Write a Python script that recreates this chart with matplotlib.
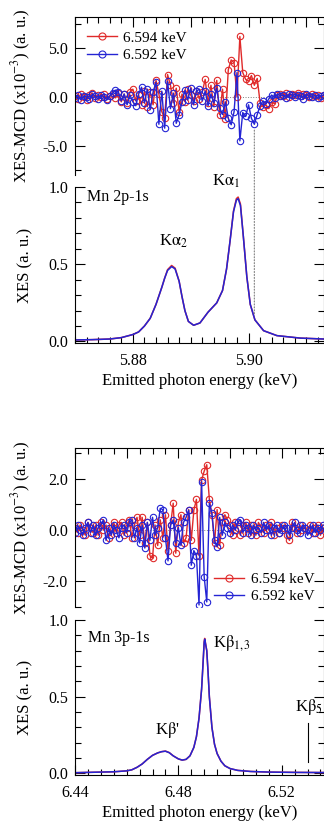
import numpy as np
import matplotlib
matplotlib.use("Agg")
import matplotlib.pyplot as plt
from matplotlib.patches import ConnectionPatch
from matplotlib.ticker import MultipleLocator, FormatStrFormatter

plt.rcParams['font.family'] = ['Liberation Serif', 'DejaVu Serif']
plt.rcParams['mathtext.fontset'] = 'stix'
plt.rcParams['axes.unicode_minus'] = False

RED = '#e02a2a'
BLUE = '#2424d4'

# ---- Mn 2p-1s (K-alpha) ----
# MCD sampled every 0.5 eV starting at 5.870 keV
ka_mcd_start, ka_mcd_step = 5.870, 0.0005
ka_mcd_594 = [0.1, -0.2, 0.3, 0.0, -0.3, 0.2, 0.4, -0.1, 0.2, 0.0, 0.3, -0.2, 0.1, 0.3, -0.1,
              0.4, -0.5, 0.3, -0.6, 0.5, 0.8, -0.4, 0.2, -0.8, 0.6,
              -1.0, 0.5, -0.8, 1.7, 0.3, -1.5, -2.2, 2.3, 1.2, -0.6, 0.9, -1.5,
              0.3, -0.5, 0.8, 0.2, -0.4, 0.6, -0.2,
              0.5, 1.8, -0.6, 1.2, -1.0, 1.7, -1.8, 0.8, -2.3, 2.8, 3.8, 3.5, 0.0, 6.2, 2.5, 1.8,
              1.6, 2.2, 1.2, 1.9,
              -0.6, -1.0, -0.8, -1.2, -0.5, -0.7,
              0.2, 0.3, 0.1, 0.4, 0.0, 0.3, 0.2, 0.4, 0.1, 0.3, 0.2, 0.0, 0.3, 0.1, 0.2, -0.1, 0.2]
ka_mcd_592 = [-0.1, 0.2, -0.3, 0.1, 0.0, -0.2, 0.3, 0.1, -0.2, 0.2, 0.0, -0.3, 0.1, 0.4, 0.7,
              0.5, -0.4, 0.3, -0.8, 0.2, -0.5, -0.9, 0.3, 1.0, -0.6,
              0.8, -1.3, 0.5, 1.5, -2.8, 0.6, -3.2, 1.6, -1.2, 0.4, -2.7, -1.8,
              -0.5, 0.7, -0.3, 0.9, -0.8, 0.6, 0.8,
              -0.4, 0.6, -0.9, 0.3, -0.6, 0.9, -1.1, -1.8, -0.5, -2.2, -2.85, -1.5, 2.5, -4.5,
              -1.6, -2.0, -0.8, -2.2, -2.8, -1.8, -0.9, -0.4, -0.7, -0.2,
              0.2, -0.1, 0.3, 0.1, 0.2, -0.1, 0.3, 0.2, 0.0, 0.2, 0.1, -0.2, 0.3, 0.1, 0.0, 0.2,
              -0.1, 0.1, 0.2]

ka_energy = [5.870, 5.873, 5.876, 5.878, 5.880, 5.881, 5.882, 5.883, 5.884, 5.885, 5.8855,
             5.886, 5.8867, 5.8873, 5.888, 5.8885, 5.889, 5.8896, 5.8905, 5.8916, 5.893,
             5.8945, 5.8955, 5.8962, 5.8968, 5.8974, 5.8979, 5.8982, 5.8986, 5.8991, 5.8997,
             5.9003, 5.9011, 5.9026, 5.9049, 5.9089, 5.913]
ka_xes_594 = [0.010, 0.012, 0.016, 0.025, 0.045, 0.062, 0.10, 0.15, 0.24, 0.35, 0.41,
              0.465, 0.492, 0.475, 0.39, 0.29, 0.20, 0.13, 0.105, 0.12, 0.19,
              0.25, 0.33, 0.47, 0.65, 0.845, 0.925, 0.935, 0.89, 0.68, 0.42,
              0.24, 0.14, 0.07, 0.038, 0.022, 0.016]
ka_xes_592 = [0.010, 0.012, 0.016, 0.025, 0.045, 0.062, 0.10, 0.15, 0.24, 0.35, 0.41,
              0.46, 0.485, 0.47, 0.39, 0.29, 0.20, 0.13, 0.105, 0.12, 0.19,
              0.25, 0.33, 0.47, 0.65, 0.84, 0.915, 0.925, 0.88, 0.68, 0.42,
              0.24, 0.14, 0.07, 0.038, 0.022, 0.016]
ka_marker_energy = 5.901

# ---- Mn 3p-1s (K-beta) ----
kb_mcd_start, kb_mcd_step = 6.440, 0.001
kb_mcd_594 = [0.1, -0.1, 0.2, 0.0, -0.2, 0.3, 0.1, -0.1, 0.2, -0.2, 0.3, 0.0, 0.2, -0.3, 0.1,
              0.3, -0.1, 0.2, 0.3, -0.2, 0.1, 0.4, -0.3, 0.2, 0.5, -0.2,
              0.5, -0.5, 0.3, -1.0, -1.1, 0.2, -0.6, 0.4, -0.3,
              0.6, -0.8, 0.2, 1.05, -0.9, 0.3, 0.6, -0.5, -0.3, 0.8, -0.4, 0.78, 1.2,
              -1.0, 1.95, 2.3, 2.55, 1.2, 0.6, -0.5, 0.8, -0.6,
              0.3, 0.6, 0.4, 0.2, -0.2, 0.3, 0.1, -0.2, 0.2, 0.3, -0.1, 0.2, 0.0, -0.2, 0.3,
              0.1, -0.1, 0.2, 0.0, 0.3, -0.2, 0.1, -0.1, 0.2, 0.1, -0.2, -0.4, 0.3, 0.1, -0.1,
              0.2, 0.0, 0.1, 0.0, 0.2, -0.1, 0.1, 0.2, -0.2, 0.1]
kb_mcd_592 = [-0.1, 0.2, 0.0, -0.2, 0.1, 0.3, -0.1, 0.2, -0.2, 0.1, 0.2, 0.4, -0.4, 0.1, -0.2,
              0.2, 0.0, -0.3, 0.1, 0.2, -0.1, 0.3, 0.4, -0.3, 0.1, -0.5,
              0.2, -0.7, 0.3, -0.4, 0.5, -0.2, 0.1, 0.85, 0.8,
              -0.3, -1.2, 0.2, 0.4, -0.5, 0.1, -0.6, 0.3, 0.5, 0.78, -1.37, -0.8, -1.0,
              -2.92, 1.88, -1.83, -2.8, 1.05, 0.65, -0.4, -0.65, 0.5,
              -0.2, 0.3, 0.1, -0.1, 0.2, 0.0, 0.3, 0.4, -0.1, 0.2, 0.1, -0.2, 0.2, 0.0, 0.1,
              -0.1, 0.3, 0.0, 0.2, -0.2, 0.1, 0.2, -0.1, 0.0, 0.2, 0.1, -0.2, 0.1, 0.3, 0.0,
              -0.1, 0.2, 0.1, -0.2, 0.0, 0.2, -0.1, 0.1, 0.0, 0.2]

kb_energy = [6.440, 6.445, 6.450, 6.455, 6.460, 6.462, 6.464, 6.466, 6.468, 6.470, 6.472,
             6.4735, 6.475, 6.4765, 6.478, 6.480, 6.4815, 6.483, 6.4845, 6.486, 6.487,
             6.488, 6.489, 6.4895, 6.490, 6.4902, 6.491, 6.4915, 6.492, 6.493, 6.494,
             6.495, 6.4965, 6.498, 6.500, 6.503, 6.508, 6.515, 6.525, 6.5364]
kb_xes_594 = [0.005, 0.007, 0.009, 0.011, 0.017, 0.024, 0.040, 0.062, 0.092, 0.118, 0.134,
              0.142, 0.146, 0.136, 0.115, 0.095, 0.087, 0.092, 0.115, 0.17, 0.24,
              0.36, 0.55, 0.70, 0.86, 0.88, 0.80, 0.66, 0.50, 0.30, 0.19,
              0.13, 0.08, 0.05, 0.032, 0.02, 0.013, 0.009, 0.007, 0.006]
kb_xes_592 = [0.005, 0.007, 0.009, 0.011, 0.017, 0.024, 0.040, 0.062, 0.092, 0.118, 0.134,
              0.142, 0.145, 0.135, 0.115, 0.095, 0.087, 0.092, 0.115, 0.17, 0.24,
              0.36, 0.55, 0.70, 0.855, 0.875, 0.80, 0.66, 0.50, 0.30, 0.19,
              0.13, 0.08, 0.05, 0.032, 0.02, 0.013, 0.009, 0.007, 0.006]
kb5_energy = 6.530
kb5_span = (0.076, 0.326)

legend_labels = ['6.594 keV', '6.592 keV']

fig = plt.figure(figsize=(3.24, 8.25), dpi=100)
L, W = 0.2315, 0.7695
ax_m1 = fig.add_axes([L, 0.7879, W, 0.1915])
ax_x1 = fig.add_axes([L, 0.5842, W, 0.1891])
ax_m2 = fig.add_axes([L, 0.2642, W, 0.1927])
ax_x2 = fig.add_axes([L, 0.0606, W, 0.1879])


def style(ax, top):
    ax.tick_params(which='both', direction='in', left=True, right=True, labelsize=11.5,
                   width=0.8, pad=5)
    ax.tick_params(which='major', length=7)
    ax.tick_params(which='minor', length=4)
    for s in ax.spines.values():
        s.set_linewidth(0.8)
    if top:
        ax.spines['bottom'].set_visible(False)
        ax.tick_params(axis='x', which='both', top=True, bottom=False,
                       labelbottom=False, labeltop=False)
    else:
        ax.spines['top'].set_visible(False)
        ax.tick_params(axis='x', which='both', top=False, bottom=True, pad=7)
    ax.yaxis.set_major_formatter(FormatStrFormatter('%.1f'))


def mcd(ax, start, step, r, b):
    e = start + step * np.arange(len(r))
    ax.axhline(0, color='gray', lw=0.7, ls=':')
    ax.plot(e, r, '-o', color=RED, lw=1.0, ms=4.6, mfc='none', mew=0.8, label=legend_labels[0])
    ax.plot(e, b, '-o', color=BLUE, lw=1.0, ms=4.6, mfc='none', mew=0.8, label=legend_labels[1])


ylab_mcd = 'XES-MCD (x10$^{-3}$) (a. u.)'
leg_kw = dict(frameon=False, fontsize=11, handlelength=2.0, handletextpad=0.4,
              labelspacing=0.25, markerscale=1.1)

# top pair
mcd(ax_m1, ka_mcd_start, ka_mcd_step, ka_mcd_594, ka_mcd_592)
style(ax_m1, True)
ax_m1.set_xlim(5.870, 5.9131)
ax_m1.set_ylim(-8.0, 8.2)
ax_m1.xaxis.set_major_locator(MultipleLocator(0.01))
ax_m1.xaxis.set_minor_locator(MultipleLocator(0.002))
ax_m1.yaxis.set_major_locator(MultipleLocator(5))
ax_m1.yaxis.set_minor_locator(MultipleLocator(2.5))
ax_m1.set_ylabel(ylab_mcd, fontsize=12)
ax_m1.yaxis.set_label_coords(-0.168, 0.5)
ax_m1.legend(loc='upper left', bbox_to_anchor=(0.01, 0.97), borderaxespad=0.2, **leg_kw)

ax_x1.plot(ka_energy, ka_xes_594, color=RED, lw=1.1)
ax_x1.plot(ka_energy, ka_xes_592, color=BLUE, lw=1.1)
style(ax_x1, False)
ax_x1.set_xlim(5.870, 5.9131)
ax_x1.set_ylim(-0.01, 1.0)
ax_x1.xaxis.set_major_locator(MultipleLocator(0.02))
ax_x1.xaxis.set_minor_locator(MultipleLocator(0.002))
ax_x1.xaxis.set_major_formatter(FormatStrFormatter('%.2f'))
ax_x1.yaxis.set_major_locator(MultipleLocator(0.5))
ax_x1.yaxis.set_minor_locator(MultipleLocator(0.1))
ax_x1.set_ylabel('XES (a. u.)', fontsize=12)
ax_x1.yaxis.set_label_coords(-0.168, 0.5)
ax_x1.set_xlabel('Emitted photon energy (keV)', fontsize=12, labelpad=3)
ax_x1.text(0.048, 0.935, 'Mn 2p-1s', transform=ax_x1.transAxes,
           fontsize=11.5, va='center', ha='left')
ax_x1.text(5.887, 0.65, r'K$\mathrm{\alpha}_2$', fontsize=12, ha='center', va='center')
ax_x1.text(5.8961, 1.034, r'K$\mathrm{\alpha}_1$', fontsize=12, ha='center', va='center')

con = ConnectionPatch(xyA=(ka_marker_energy, -3.4), coordsA=ax_m1.transData,
                      xyB=(ka_marker_energy, 0.17), coordsB=ax_x1.transData,
                      color='gray', lw=0.8, ls=':')
fig.add_artist(con)

# bottom pair
mcd(ax_m2, kb_mcd_start, kb_mcd_step, kb_mcd_594, kb_mcd_592)
style(ax_m2, True)
ax_m2.set_xlim(6.440, 6.5365)
ax_m2.set_ylim(-3.0, 3.2)
ax_m2.xaxis.set_major_locator(MultipleLocator(0.02))
ax_m2.xaxis.set_minor_locator(MultipleLocator(0.005))
ax_m2.yaxis.set_major_locator(MultipleLocator(2))
ax_m2.yaxis.set_minor_locator(MultipleLocator(1))
ax_m2.set_ylabel(ylab_mcd, fontsize=12)
ax_m2.yaxis.set_label_coords(-0.168, 0.5)
ax_m2.legend(loc='lower right', bbox_to_anchor=(0.99, -0.025), borderaxespad=0.1, **leg_kw)

ax_x2.plot(kb_energy, kb_xes_594, color=RED, lw=1.1)
ax_x2.plot(kb_energy, kb_xes_592, color=BLUE, lw=1.1)
style(ax_x2, False)
ax_x2.set_xlim(6.440, 6.5365)
ax_x2.set_ylim(-0.01, 1.0)
ax_x2.xaxis.set_major_locator(MultipleLocator(0.04))
ax_x2.xaxis.set_minor_locator(MultipleLocator(0.005))
ax_x2.xaxis.set_major_formatter(FormatStrFormatter('%.2f'))
ax_x2.yaxis.set_major_locator(MultipleLocator(0.5))
ax_x2.yaxis.set_minor_locator(MultipleLocator(0.1))
ax_x2.set_ylabel('XES (a. u.)', fontsize=12)
ax_x2.yaxis.set_label_coords(-0.168, 0.5)
ax_x2.set_xlabel('Emitted photon energy (keV)', fontsize=12, labelpad=3)
ax_x2.text(0.052, 0.887, 'Mn 3p-1s', transform=ax_x2.transAxes, fontsize=11.5,
           va='center', ha='left')
ax_x2.text(6.4934, 0.848, r'K$\mathrm{\beta}_{1,3}$', fontsize=12, ha='left', va='center')
ax_x2.text(6.4756, 0.286, r"K$\mathrm{\beta}$'", fontsize=12, ha='center', va='center')
ax_x2.text(6.5252, 0.433, r'K$\mathrm{\beta}_5$', fontsize=12, ha='left', va='center')
ax_x2.plot([kb5_energy, kb5_energy], kb5_span, color='black', lw=0.8)

fig.savefig('out.png', dpi=100)
